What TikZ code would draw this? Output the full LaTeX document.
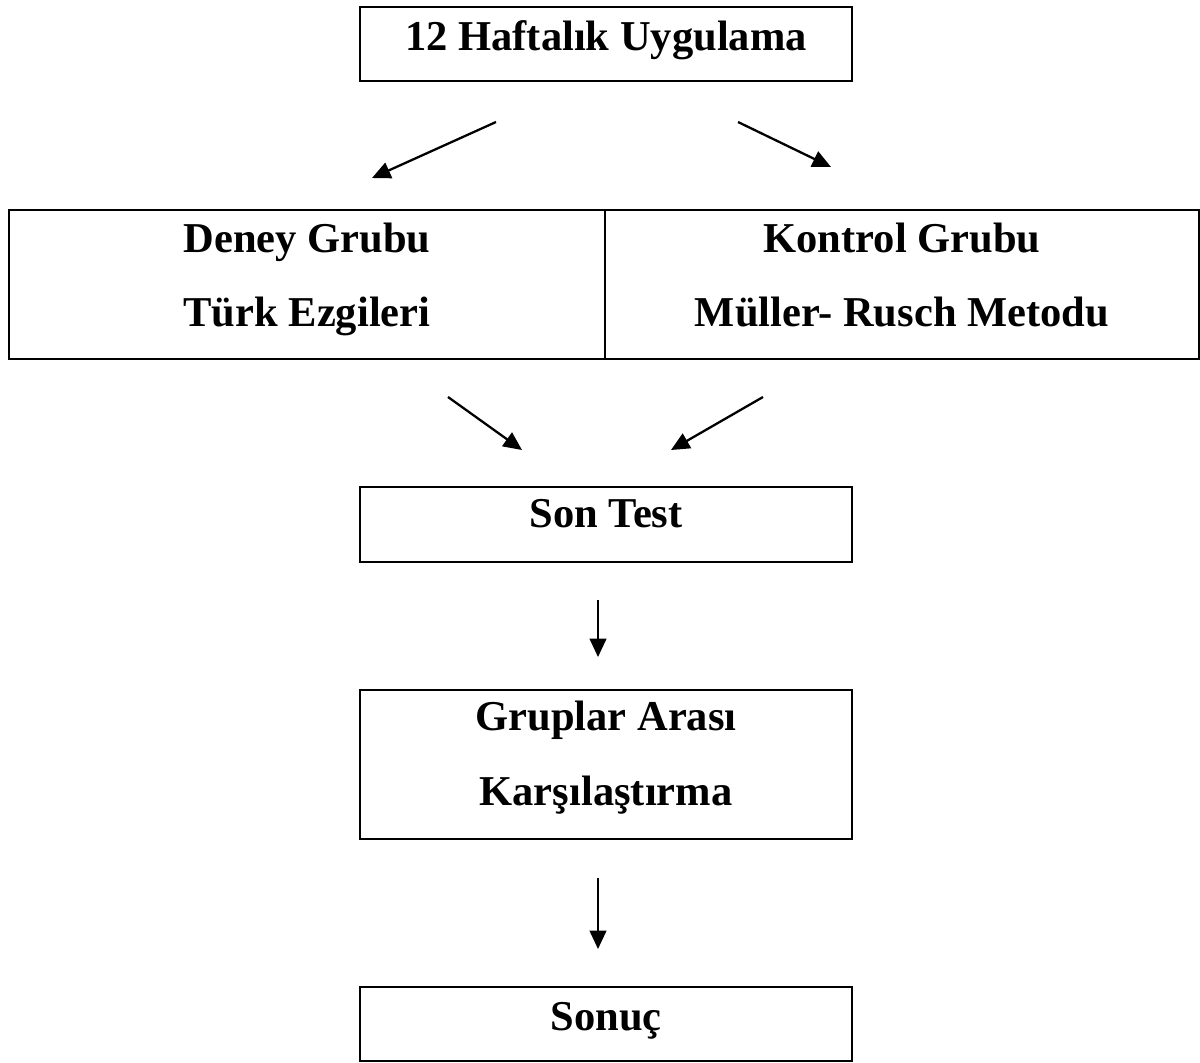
\documentclass[tikz,border=0pt]{standalone}
\usepackage{fontspec}
\setmainfont{Liberation Serif}
\usetikzlibrary{arrows.meta}
\tikzset{
  kutu/.style={draw, line width=1.3pt, inner sep=0pt},
  yazi/.style={anchor=base, inner sep=0pt, font=\fontsize{24.2}{29}\selectfont\bfseries},
  ok/.style={line width=1.3pt, -{Triangle[length=10.5pt,width=9.5pt]}}
}
\begin{document}
\begin{tikzpicture}[x=0.02cm, y=-0.02cm, line join=miter]
\useasboundingbox (0,0) rectangle (1200,1062);
% kutular
\node[kutu, minimum width=9.84cm, minimum height=1.48cm] (uygulama) at (606,44) {};
\node[kutu, minimum width=11.92cm, minimum height=2.98cm] (deney) at (307,284.5) {};
\node[kutu, minimum width=11.88cm, minimum height=2.98cm] (kontrol) at (902,284.5) {};
\node[kutu, minimum width=9.84cm, minimum height=1.5cm] (sontest) at (606,524.5) {};
\node[kutu, minimum width=9.84cm, minimum height=2.98cm] (karsilastirma) at (606,764.5) {};
\node[kutu, minimum width=9.84cm, minimum height=1.48cm] (sonuc) at (606,1024) {};
% yazilar
\node[yazi] (t1) at (606,50) {12 Haftalık Uygulama};
\node[yazi] (t2) at (307,252) {Deney Grubu};
\node[yazi] (t3) at (307,326) {Türk Ezgileri};
\node[yazi] (t4) at (902,252) {Kontrol Grubu};
\node[yazi] (t5) at (902,326) {Müller- Rusch Metodu};
\node[yazi] (t6) at (606,527) {Son Test};
\node[yazi] (t7) at (606,730) {Gruplar Arası};
\node[yazi] (t8) at (606,805) {Karşılaştırma};
\node[yazi] (t9) at (606,1030) {Sonuç};
% oklar
\coordinate (a1) at (496,122); \coordinate (a2) at (372,178);
\coordinate (b1) at (738,122); \coordinate (b2) at (831,167);
\coordinate (c1) at (448,397); \coordinate (c2) at (522,450);
\coordinate (d1) at (763,397); \coordinate (d2) at (671,450);
\coordinate (e1) at (598,600); \coordinate (e2) at (598,657);
\coordinate (f1) at (598,878); \coordinate (f2) at (598,949);
\draw[ok] (a1) -- (a2);
\draw[ok] (b1) -- (b2);
\draw[ok] (c1) -- (c2);
\draw[ok] (d1) -- (d2);
\draw[ok] (e1) -- (e2);
\draw[ok] (f1) -- (f2);
\end{tikzpicture}
\end{document}
